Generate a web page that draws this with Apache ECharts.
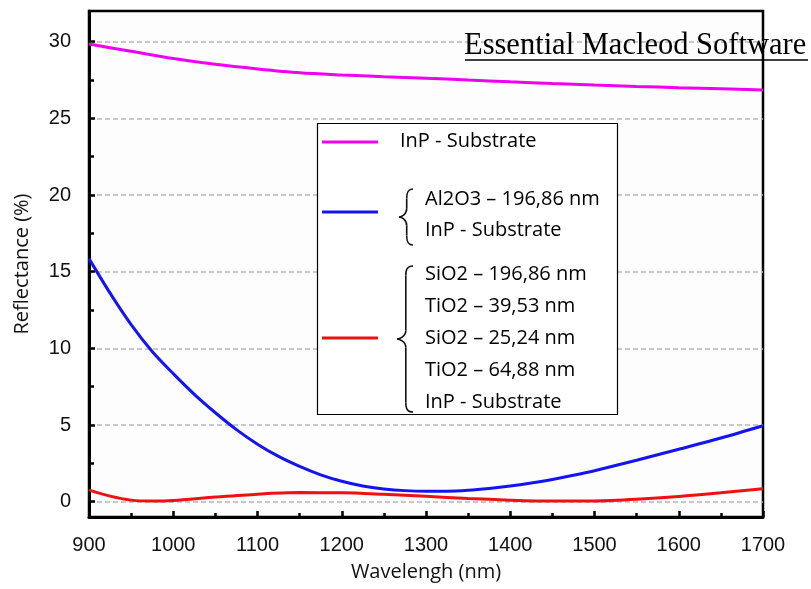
<!DOCTYPE html>
<html>
<head>
<meta charset="utf-8">
<script src="https://cdn.jsdelivr.net/npm/echarts@6/dist/echarts.min.js"></script>
<style>html,body{margin:0;padding:0;background:#fff}#c{width:811px;height:589px}</style>
</head>
<body>
<div id="c"></div>
<script>
// Data
const inpX = [900, 950, 1000, 1050, 1100, 1150, 1200, 1250, 1300, 1350, 1400, 1450, 1500, 1550, 1600, 1650, 1700];
const inpY = [29.85, 29.37, 28.9, 28.52, 28.22, 27.97, 27.83, 27.72, 27.62, 27.5, 27.38, 27.27, 27.17, 27.08, 27.0, 26.93, 26.85];

const al2o3X = [900, 925, 950, 975, 1000, 1025, 1050, 1075, 1100, 1125, 1150, 1175, 1200, 1225, 1250, 1275, 1300, 1325, 1350, 1375, 1400, 1425, 1450, 1475, 1500, 1550, 1600, 1650, 1700];
const al2o3Y = [15.85, 13.6, 11.55, 9.8, 8.35, 7.0, 5.8, 4.7, 3.75, 2.95, 2.3, 1.75, 1.33, 1.02, 0.83, 0.72, 0.68, 0.68, 0.74, 0.86, 1.02, 1.22, 1.45, 1.72, 2.02, 2.7, 3.42, 4.15, 4.95];

const multiX = [900, 925, 950, 975, 1000, 1050, 1100, 1150, 1200, 1250, 1300, 1350, 1400, 1450, 1500, 1550, 1600, 1650, 1700];
const multiY = [0.75, 0.36, 0.1, 0.04, 0.08, 0.3, 0.49, 0.59, 0.58, 0.48, 0.35, 0.21, 0.1, 0.04, 0.05, 0.16, 0.34, 0.58, 0.85];

const yLabelValues = [0, 5, 10, 15, 20, 25, 30];
const yMinorValues = [2.5, 7.5, 12.5, 17.5, 22.5, 27.5];

const legendBlock1 = ['InP - Substrate'];
const legendBlock2 = ['Al2O3 \u2013 196,86 nm', 'InP - Substrate'];
const legendBlock3 = ['SiO2 \u2013 196,86 nm', 'TiO2 \u2013 39,53 nm', 'SiO2 \u2013 25,24 nm', 'TiO2 \u2013 64,88 nm', 'InP - Substrate'];

const colMag = '#f000f0', colBlue = '#1414f0', colRed = '#ee1111';
const pair = (xs, ys) => xs.map((x, i) => [x, ys[i]]);

const chart = echarts.init(document.getElementById('c'), null, {renderer: 'canvas'});
const legFont = '20px "Open Sans"';

const graphics = [];
graphics.push({type: 'rect', shape: {x: 317.5, y: 123.5, width: 300, height: 291}, style: {fill: '#fff', stroke: '#000', lineWidth: 1.2}, z: 10});
[[142, colMag], [212, colBlue], [338, colRed]].forEach(([y, c]) => {
  graphics.push({type: 'line', shape: {x1: 322, y1: y, x2: 378, y2: y}, style: {stroke: c, lineWidth: 3}, z: 11});
});
graphics.push({type: 'text', style: {x: 400, y: 141, text: legendBlock1[0], font: legFont, fill: '#000', verticalAlign: 'middle'}, z: 11});
legendBlock2.forEach((t, i) => graphics.push({type: 'text', style: {x: 425, y: 199 + i * 31, text: t, font: legFont, fill: '#000', verticalAlign: 'middle'}, z: 11}));
legendBlock3.forEach((t, i) => graphics.push({type: 'text', style: {x: 425, y: 274 + i * 32, text: t, font: legFont, fill: '#000', verticalAlign: 'middle'}, z: 11}));
function brace(xr, top, bottom, depth) {
  const mid = (top + bottom) / 2;
  const xm = xr - depth * 0.45;
  const xt = xr - depth;
  const c = 6;
  const st = {stroke: '#111', lineWidth: 1.6, fill: null};
  return [
    {type: 'bezierCurve', shape: {x1: xr, y1: top, cpx1: xm, cpy1: top, cpx2: xm, cpy2: top + c, x2: xm, y2: top + c * 1.6}, style: st, z: 11},
    {type: 'line', shape: {x1: xm, y1: top + c * 1.6, x2: xm, y2: mid - c * 1.4}, style: st, z: 11},
    {type: 'bezierCurve', shape: {x1: xm, y1: mid - c * 1.4, cpx1: xm, cpy1: mid - 2, cpx2: xt + 2, cpy2: mid, x2: xt, y2: mid}, style: st, z: 11},
    {type: 'bezierCurve', shape: {x1: xt, y1: mid, cpx1: xt + 2, cpy1: mid, cpx2: xm, cpy2: mid + 2, x2: xm, y2: mid + c * 1.4}, style: st, z: 11},
    {type: 'line', shape: {x1: xm, y1: mid + c * 1.4, x2: xm, y2: bottom - c * 1.6}, style: st, z: 11},
    {type: 'bezierCurve', shape: {x1: xm, y1: bottom - c * 1.6, cpx1: xm, cpy1: bottom - c, cpx2: xm, cpy2: bottom, x2: xr, y2: bottom}, style: st, z: 11}
  ];
}
graphics.push(...brace(413, 189, 245, 14));
graphics.push(...brace(413, 266, 412, 16));
graphics.push({type: 'text', style: {x: 464, y: 46, text: 'Essential Macleod Software', font: '30.5px "Liberation Serif"', fill: '#000', verticalAlign: 'middle'}, z: 12});
graphics.push({type: 'line', shape: {x1: 465, y1: 60, x2: 808, y2: 60}, style: {stroke: '#000', lineWidth: 1.3}, z: 12});

const lineSeries = (name, data, color) => ({
  name, type: 'line', data, smooth: 0.3, showSymbol: false, symbol: 'none',
  lineStyle: {color, width: 3}, itemStyle: {color}, z: 3, clip: true
});

chart.setOption({
  backgroundColor: '#ffffff',
  animation: false,
  grid: {left: 89, right: 48, top: 11, bottom: 72, show: true, borderColor: '#000', borderWidth: 2.5, backgroundColor: '#fdfdfd', containLabel: false, outerBoundsMode: 'none'},
  xAxis: {
    type: 'value', min: 900, max: 1700, interval: 100,
    name: 'Wavelengh (nm)', nameLocation: 'middle', nameGap: 45,
    nameTextStyle: {fontFamily: 'Open Sans', fontSize: 20, color: '#111'},
    axisLine: {show: true, onZero: false, lineStyle: {color: '#000', width: 3}},
    axisTick: {show: true, inside: true, length: 6, lineStyle: {color: '#000', width: 2.5}},
    minorTick: {show: true, splitNumber: 2, length: 4, lineStyle: {color: '#000', width: 2.5}},
    axisLabel: {fontFamily: 'Liberation Sans', fontSize: 20, color: '#111', margin: 18, formatter: v => String(v)},
    splitLine: {show: false}
  },
  yAxis: [{
    type: 'value', min: -1, max: 32,
    name: 'Reflectance (%)', nameLocation: 'middle', nameGap: 57,
    nameTextStyle: {fontFamily: 'Open Sans', fontSize: 20, color: '#111'},
    axisLine: {show: true, onZero: false, lineStyle: {color: '#000', width: 3}},
    axisTick: {show: true, inside: true, length: 6, customValues: yLabelValues, lineStyle: {color: '#000', width: 2.5}},
    axisLabel: {fontFamily: 'Liberation Sans', fontSize: 20, color: '#111', margin: 18, customValues: yLabelValues, formatter: v => String(v)},
    splitLine: {show: true, lineStyle: {color: '#b8b8b8', width: 1.5, type: [5, 3]}}
  }, {
    type: 'value', min: -1, max: 32, position: 'left',
    axisLine: {show: false},
    axisTick: {show: true, inside: true, length: 5, customValues: yMinorValues, lineStyle: {color: '#000', width: 2.5}},
    axisLabel: {show: false, customValues: yMinorValues},
    splitLine: {show: false}
  }],
  series: [
    lineSeries('InP - Substrate', pair(inpX, inpY), colMag),
    lineSeries('Al2O3', pair(al2o3X, al2o3Y), colBlue),
    lineSeries('Multilayer', pair(multiX, multiY), colRed)
  ],
  graphic: graphics
});
</script>
</body>
</html>
